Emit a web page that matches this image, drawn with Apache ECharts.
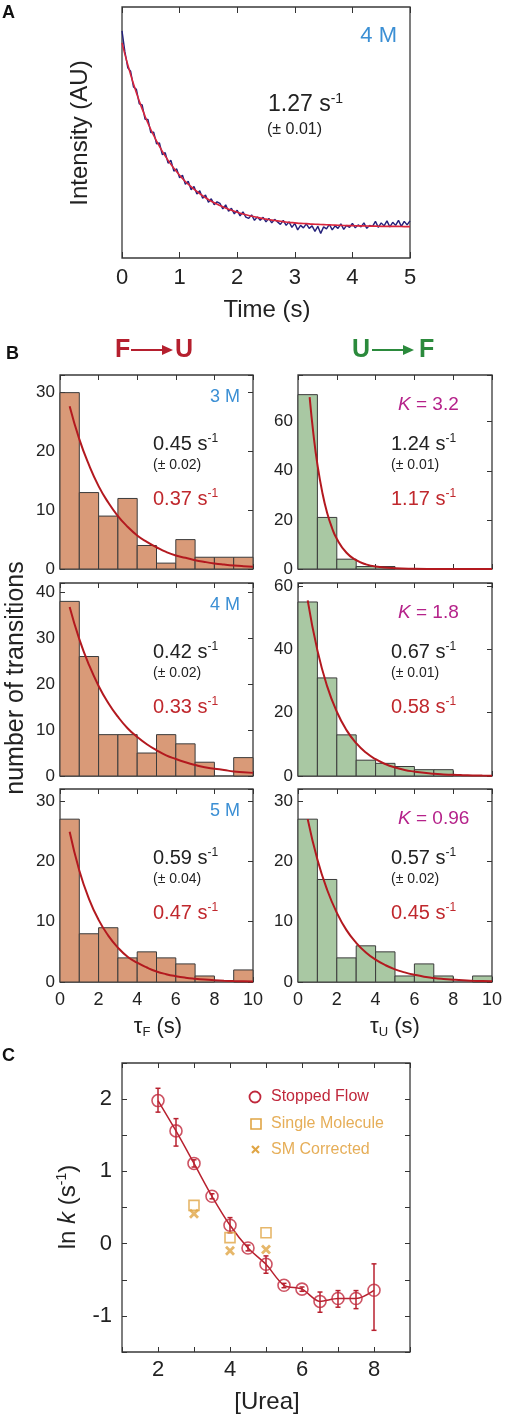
<!DOCTYPE html>
<html><head><meta charset="utf-8">
<script src="https://cdn.jsdelivr.net/npm/echarts@6/dist/echarts.min.js"></script>
<style>html,body{margin:0;padding:0;background:#fff}#c{width:505px;height:1418px}</style>
</head><body><div id="c"></div>
<script>
// ---------------- Panel A: stopped-flow trace ----------------
const timeA = [0,0.05,0.1,0.15,0.2,0.25,0.3,0.35,0.4,0.45,0.5,0.55,0.6,0.65,0.7,0.75,0.8,0.85,0.9,0.95,1,1.05,1.1,1.15,1.2,1.25,1.3,1.35,1.4,1.45,1.5,1.55,1.6,1.65,1.7,1.75,1.8,1.85,1.9,1.95,2,2.05,2.1,2.15,2.2,2.25,2.3,2.35,2.4,2.45,2.5,2.55,2.6,2.65,2.7,2.75,2.8,2.85,2.9,2.95,3,3.05,3.1,3.15,3.2,3.25,3.3,3.35,3.4,3.45,3.5,3.55,3.6,3.65,3.7,3.75,3.8,3.85,3.9,3.95,4,4.05,4.1,4.15,4.2,4.25,4.3,4.35,4.4,4.45,4.5,4.55,4.6,4.65,4.7,4.75,4.8,4.85,4.9,4.95,5];
const traceA = [0.905,0.822,0.758,0.744,0.681,0.672,0.614,0.610,0.553,0.552,0.500,0.501,0.455,0.458,0.412,0.420,0.378,0.389,0.346,0.355,0.320,0.330,0.294,0.306,0.272,0.285,0.255,0.268,0.238,0.251,0.222,0.236,0.212,0.224,0.218,0.196,0.212,0.186,0.198,0.176,0.190,0.168,0.184,0.163,0.158,0.172,0.150,0.164,0.150,0.162,0.144,0.158,0.140,0.154,0.144,0.134,0.150,0.130,0.144,0.122,0.138,0.112,0.130,0.120,0.136,0.118,0.128,0.106,0.126,0.098,0.124,0.116,0.134,0.112,0.128,0.118,0.136,0.114,0.130,0.122,0.138,0.120,0.132,0.124,0.140,0.118,0.130,0.126,0.146,0.122,0.140,0.128,0.148,0.124,0.142,0.130,0.150,0.126,0.146,0.132,0.148];
const fitTimeA = [0,0.1,0.2,0.3,0.4,0.5,0.6,0.7,0.8,0.9,1,1.1,1.2,1.3,1.4,1.5,1.6,1.7,1.8,1.9,2,2.1,2.2,2.3,2.4,2.5,2.6,2.7,2.8,2.9,3,3.1,3.2,3.3,3.4,3.5,3.6,3.7,3.8,3.9,4,4.1,4.2,4.3,4.4,4.5,4.6,4.7,4.8,4.9,5];
const fitA = [0.857,0.770,0.693,0.625,0.565,0.512,0.466,0.425,0.389,0.358,0.330,0.305,0.284,0.265,0.248,0.233,0.220,0.209,0.199,0.190,0.182,0.175,0.169,0.164,0.159,0.155,0.151,0.148,0.145,0.142,0.140,0.138,0.137,0.135,0.134,0.133,0.132,0.131,0.130,0.129,0.129,0.128,0.128,0.127,0.127,0.126,0.126,0.126,0.126,0.125,0.125];

// ---------------- Panel B: dwell-time histograms ----------------
const binEdges = [0,1,2,3,4,5,6,7,8,9,10];
const countsF3 = [30,13,9,12,4,1,5,2,2,2];
const countsF4 = [38,26,9,9,5,9,7,3,0,4];
const countsF5 = [27,8,9,4,5,4,3,1,0,2];
const countsU3 = [71,21,4,1,1,0,0,0,0,0];
const countsU4 = [55,31,13,5,4,3,2,2,0,0];
const countsU5 = [27,17,4,6,5,1,3,1,0,1];
const fitT = [0.5,1,1.5,2,2.5,3,3.5,4,4.5,5,5.5,6,6.5,7,7.5,8,8.5,9,9.5,10];
const fitF3 = [27.7,22.1,17.7,14.1,11.3,9.0,7.2,5.7,4.6,3.7,2.9,2.3,1.9,1.5,1.2,0.95,0.76,0.60,0.48,0.39];
const fitF4 = [36.8,29.8,24.2,19.6,15.9,12.9,10.4,8.5,6.9,5.6,4.5,3.7,3.0,2.4,1.9,1.6,1.3,1.0,0.84,0.68];
const fitF5 = [24.9,18.5,13.8,10.3,7.7,5.7,4.2,3.2,2.4,1.75,1.3,0.97,0.72,0.54,0.40,0.30,0.22,0.16,0.12,0.09];
const fitTU3 = [0.6,0.8,1.0,1.25,1.5,1.75,2,2.5,3,3.5,4,5,6,7,8,9,10];
const fitU3 = [70,54.6,42.6,31.3,22.9,16.8,12.3,6.6,3.6,1.9,1.0,0.30,0.09,0.03,0.01,0.0,0.0];
const fitU4 = [55.5,39.7,28.4,20.3,14.5,10.4,7.4,5.3,3.8,2.7,1.9,1.4,1.0,0.71,0.51,0.36,0.26,0.19,0.13,0.10];
const fitU5 = [27.0,20.3,15.3,11.5,8.6,6.5,4.9,3.7,2.8,2.1,1.6,1.2,0.88,0.66,0.50,0.38,0.28,0.21,0.16,0.12];
const concLabels = ['3 M','4 M','5 M'];
const kLabels = ['3.2','1.8','0.96'];
const rateFU = ['0.45','0.42','0.59'];
const errFU = ['0.02','0.02','0.04'];
const corrFU = ['0.37','0.33','0.47'];
const rateUF = ['1.24','0.67','0.57'];
const errUF = ['0.01','0.01','0.02'];
const corrUF = ['1.17','0.58','0.45'];

// ---------------- Panel C: chevron plot ----------------
const urea = [2,2.5,3,3.5,4,4.5,5,5.5,6,6.5,7,7.5,8];
const lnK = [1.98,1.56,1.11,0.655,0.254,-0.06,-0.286,-0.577,-0.63,-0.80,-0.76,-0.76,-0.646];
const lnKLo = [1.82,1.35,1.06,0.62,0.15,-0.10,-0.41,-0.61,-0.66,-0.95,-0.88,-0.90,-1.20];
const lnKHi = [2.15,1.73,1.16,0.69,0.36,-0.02,-0.17,-0.55,-0.60,-0.67,-0.65,-0.65,-0.28];
const smUrea = [3,4,5];
const smLnK = [0.53,0.083,0.15];
const smcLnK = [0.415,-0.10,-0.083];
const legendC = ['Stopped Flow','Single Molecule','SM Corrected'];

// ---------------- build ----------------
const FF = '"Liberation Sans", Arial, Helvetica, sans-serif';
const grids = [], xAxis = [], yAxis = [], series = [], graphic = [];

function axisCfg(gi, pos, o, main) {
  const lab = {show: main && !!o.label, margin: o.margin || 6, fontSize: o.fs || 17, color: '#222', fontFamily: FF};
  if (o.fmt) lab.formatter = o.fmt;
  return {type: 'value', gridIndex: gi, position: pos, min: o.min, max: o.max, interval: o.interval,
    axisLine: {show: false, onZero: false}, splitLine: {show: false},
    axisTick: {show: main ? o.tick !== false : !!o.tick2, inside: true, length: o.tickLen || 5, lineStyle: {color: '#333', width: 1}},
    axisLabel: lab};
}
function addGrid(box, xo, yo) {
  const gi = grids.length;
  grids.push({left: box[0], top: box[1], width: box[2], height: box[3], show: true,
    borderColor: '#3a3a3a', borderWidth: 1.3, backgroundColor: 'rgba(0,0,0,0)'});
  const xi = xAxis.length, yi = yAxis.length;
  xAxis.push(axisCfg(gi, 'bottom', xo, true));
  xAxis.push(axisCfg(gi, 'top', xo, false));
  yAxis.push(axisCfg(gi, 'left', yo, true));
  yAxis.push(axisCfg(gi, 'right', yo, false));
  return {x: xi, y: yi};
}
function txt(x, y, text, o) {
  o = o || {};
  const el = {type: 'text', x: x, y: y, z: 100, silent: true,
    style: {text: text, font: o.font || ('18px ' + FF), fill: o.fill || '#222',
      align: o.align || 'left', textAlign: o.align || 'left',
      verticalAlign: 'middle', textVerticalAlign: 'middle', rich: o.rich}};
  if (o.rot) el.rotation = o.rot;
  return el;
}
function richSet(size, color, supSize) {
  return {
    a: {fontSize: size, fontFamily: FF, fill: color, color: color, lineHeight: size + 2},
    s: {fontSize: supSize || Math.round(size * 0.6), fontFamily: FF, fill: color, color: color, verticalAlign: 'top'},
    b: {fontSize: supSize || Math.round(size * 0.6), fontFamily: FF, fill: color, color: color, verticalAlign: 'bottom'},
    i: {fontSize: size, fontFamily: FF, fill: color, color: color, fontStyle: 'italic', lineHeight: size + 2}
  };
}

// Panel A
const axA = addGrid([122, 7, 288, 251],
  {min: 0, max: 5, interval: 1, label: true, fs: 22, margin: 9, tick2: true, tickLen: 6},
  {min: 0, max: 1, interval: 0.5, tick: false, label: false});
series.push({type: 'line', xAxisIndex: axA.x, yAxisIndex: axA.y, data: timeA.map((t, i) => [t, traceA[i]]),
  showSymbol: false, symbol: 'none', lineStyle: {color: '#24207a', width: 1.4}, silent: true, z: 2});
series.push({type: 'line', xAxisIndex: axA.x, yAxisIndex: axA.y, data: fitTimeA.map((t, i) => [t, fitA[i]]),
  smooth: true, symbol: 'none', lineStyle: {color: '#d8253c', width: 1.6}, silent: true, z: 3});

// Panel B
const rowsTop = [375, 583, 789], rowH = [194, 193, 193];
const leftMax = [33, 42, 32], rightMax = [79, 61, 32];
const leftInt = [10, 10, 10], rightInt = [20, 20, 10];
const countsL = [countsF3, countsF4, countsF5], countsR = [countsU3, countsU4, countsU5];
const fitsL = [fitF3, fitF4, fitF5], fitsR = [fitU3, fitU4, fitU5];
const fitTR = [fitTU3, fitT, fitT];

function histSeries(ax, counts, fill) {
  return {type: 'custom', xAxisIndex: ax.x, yAxisIndex: ax.y, silent: true, z: 2,
    data: counts.map((c, i) => [binEdges[i], binEdges[i + 1], c]),
    encode: {x: [0, 1], y: 2},
    renderItem: function (params, api) {
      const h = api.value(2);
      if (h <= 0) return null;
      const p0 = api.coord([api.value(0), 0]);
      const p1 = api.coord([api.value(1), h]);
      return {type: 'rect', shape: {x: p0[0], y: p1[1], width: p1[0] - p0[0], height: p0[1] - p1[1]},
        style: {fill: fill, stroke: '#3b3b3b', lineWidth: 1}};
    }};
}
function fitSeries(ax, ts, vs) {
  return {type: 'line', xAxisIndex: ax.x, yAxisIndex: ax.y, data: ts.map((t, i) => [t, vs[i]]),
    smooth: true, symbol: 'none', lineStyle: {color: '#b3191f', width: 2}, silent: true, z: 3};
}
for (let r = 0; r < 3; r++) {
  const last = r === 2;
  const fmtL = (v) => (v % leftInt[r] === 0 ? String(v) : '');
  const fmtR = (v) => (v % rightInt[r] === 0 ? String(v) : '');
  const axL = addGrid([60, rowsTop[r], 193, rowH[r]],
    {min: 0, max: 10, interval: 2, label: last, fs: 18, margin: 9, tick2: true},
    {min: 0, max: leftMax[r], interval: leftInt[r], label: true, fs: 17, margin: 5, tick2: true, fmt: fmtL});
  const axR = addGrid([298, rowsTop[r], 194, rowH[r]],
    {min: 0, max: 10, interval: 2, label: last, fs: 18, margin: 9, tick2: true},
    {min: 0, max: rightMax[r], interval: rightInt[r], label: true, fs: 17, margin: 5, tick2: true, fmt: fmtR});
  series.push(histSeries(axL, countsL[r], '#d99a78'));
  series.push(fitSeries(axL, fitT, fitsL[r]));
  series.push(histSeries(axR, countsR[r], '#a9c8a3'));
  series.push(fitSeries(axR, fitTR[r], fitsR[r]));

  const t = rowsTop[r];
  graphic.push(txt(240, t + 22, concLabels[r], {font: '18px ' + FF, fill: '#3b8fd4', align: 'right'}));
  graphic.push(txt(153, t + 69, '{a|' + rateFU[r] + ' s}{s|-1}', {rich: richSet(20, '#222', 12)}));
  graphic.push(txt(153, t + 90, '(\u00b1 ' + errFU[r] + ')', {font: '14px ' + FF, fill: '#222'}));
  graphic.push(txt(153, t + 124, '{a|' + corrFU[r] + ' s}{s|-1}', {rich: richSet(20, '#c0282d', 12)}));
  graphic.push(txt(398, t + 30, '{i|K}{a| = ' + kLabels[r] + '}', {rich: richSet(19, '#b5228a')}));
  graphic.push(txt(391, t + 69, '{a|' + rateUF[r] + ' s}{s|-1}', {rich: richSet(20, '#222', 12)}));
  graphic.push(txt(391, t + 90, '(\u00b1 ' + errUF[r] + ')', {font: '14px ' + FF, fill: '#222'}));
  graphic.push(txt(391, t + 124, '{a|' + corrUF[r] + ' s}{s|-1}', {rich: richSet(20, '#c0282d', 12)}));
}

// Panel C
const axC = addGrid([122, 1063, 288, 289],
  {min: 1, max: 9, interval: 1, label: true, fs: 22, margin: 7, tick2: true, fmt: (v) => (v % 2 === 0 ? String(v) : '')},
  {min: -1.5, max: 2.5, interval: 0.5, label: true, fs: 22, margin: 10, tick2: true, fmt: (v) => (Number.isInteger(v) ? String(v) : '')});
series.push({type: 'line', xAxisIndex: axC.x, yAxisIndex: axC.y, data: urea.map((u, i) => [u, lnK[i]]),
  smooth: 0.3, symbol: 'none', lineStyle: {color: '#b8212f', width: 1.5}, silent: true, z: 2});
series.push({type: 'custom', xAxisIndex: axC.x, yAxisIndex: axC.y, silent: true, z: 3,
  data: urea.map((u, i) => [u, lnKLo[i], lnKHi[i]]), encode: {x: 0, y: [1, 2]},
  renderItem: function (params, api) {
    const lo = api.coord([api.value(0), api.value(1)]);
    const hi = api.coord([api.value(0), api.value(2)]);
    const st = {stroke: '#b8212f', lineWidth: 1.5};
    return {type: 'group', children: [
      {type: 'line', shape: {x1: lo[0], y1: lo[1], x2: hi[0], y2: hi[1]}, style: st},
      {type: 'line', shape: {x1: lo[0] - 2.5, y1: lo[1], x2: lo[0] + 2.5, y2: lo[1]}, style: st},
      {type: 'line', shape: {x1: hi[0] - 2.5, y1: hi[1], x2: hi[0] + 2.5, y2: hi[1]}, style: st}]};
  }});
series.push({type: 'scatter', name: legendC[0], xAxisIndex: axC.x, yAxisIndex: axC.y, data: urea.map((u, i) => [u, lnK[i]]),
  symbol: 'circle', symbolSize: 12, itemStyle: {color: 'rgba(0,0,0,0)', borderColor: '#c0283c', borderWidth: 1.6}, silent: true, z: 4});
series.push({type: 'scatter', name: legendC[1], xAxisIndex: axC.x, yAxisIndex: axC.y, data: smUrea.map((u, i) => [u, smLnK[i]]),
  symbol: 'rect', symbolSize: 10, itemStyle: {color: 'rgba(0,0,0,0)', borderColor: '#e0a545', borderWidth: 1.6}, silent: true, z: 4});
series.push({type: 'scatter', name: legendC[2], xAxisIndex: axC.x, yAxisIndex: axC.y, data: smUrea.map((u, i) => [u, smcLnK[i]]),
  symbol: 'path://M0,2L2,0L5,3L8,0L10,2L7,5L10,8L8,10L5,7L2,10L0,8L3,5Z', symbolSize: 10,
  itemStyle: {color: '#e0a545'}, silent: true, z: 4});

// legend of panel C
graphic.push({type: 'circle', z: 100, silent: true, shape: {cx: 255, cy: 1097, r: 5.5}, style: {fill: 'none', stroke: '#c0283c', lineWidth: 1.8}});
graphic.push({type: 'rect', z: 100, silent: true, shape: {x: 251, y: 1119, width: 10, height: 10}, style: {fill: 'none', stroke: '#e0a545', lineWidth: 1.6}});
graphic.push({type: 'line', z: 100, silent: true, shape: {x1: 252, y1: 1146, x2: 259, y2: 1153}, style: {stroke: '#e0a545', lineWidth: 2.2}});
graphic.push({type: 'line', z: 100, silent: true, shape: {x1: 259, y1: 1146, x2: 252, y2: 1153}, style: {stroke: '#e0a545', lineWidth: 2.2}});
graphic.push(txt(271, 1097, legendC[0], {font: '16px ' + FF, fill: '#c0283c'}));
graphic.push(txt(271, 1124, legendC[1], {font: '16px ' + FF, fill: '#e6ae58'}));
graphic.push(txt(271, 1150, legendC[2], {font: '16px ' + FF, fill: '#e6ae58'}));

// Panel labels and titles
graphic.push(txt(2, 13, 'A', {font: 'bold 18px ' + FF, fill: '#111'}));
graphic.push(txt(6, 354, 'B', {font: 'bold 18px ' + FF, fill: '#111'}));
graphic.push(txt(2, 1056, 'C', {font: 'bold 18px ' + FF, fill: '#111'}));

graphic.push(txt(397, 36, '4 M', {font: '22px ' + FF, fill: '#3b8fd4', align: 'right'}));
graphic.push(txt(268, 105, '{a|1.27 s}{s|-1}', {rich: richSet(23, '#222', 14)}));
graphic.push(txt(267, 130, '(\u00b1 0.01)', {font: '16px ' + FF, fill: '#222'}));
graphic.push(txt(80, 133, 'Intensity (AU)', {font: '24px ' + FF, fill: '#222', align: 'center', rot: Math.PI / 2}));
graphic.push(txt(267, 310, 'Time (s)', {font: '24px ' + FF, fill: '#222', align: 'center'}));

// F -> U / U -> F headers
const cFU = '#b51f2e', cUF = '#2b8a3c';
graphic.push(txt(115, 350, 'F', {font: 'bold 25px ' + FF, fill: cFU}));
graphic.push({type: 'line', z: 100, silent: true, shape: {x1: 131, y1: 350, x2: 164, y2: 350}, style: {stroke: cFU, lineWidth: 2}});
graphic.push({type: 'polygon', z: 100, silent: true, shape: {points: [[162, 345], [173, 350], [162, 355]]}, style: {fill: cFU}});
graphic.push(txt(175, 350, 'U', {font: 'bold 25px ' + FF, fill: cFU}));
graphic.push(txt(352, 350, 'U', {font: 'bold 25px ' + FF, fill: cUF}));
graphic.push({type: 'line', z: 100, silent: true, shape: {x1: 372, y1: 350, x2: 405, y2: 350}, style: {stroke: cUF, lineWidth: 2}});
graphic.push({type: 'polygon', z: 100, silent: true, shape: {points: [[403, 345], [414, 350], [403, 355]]}, style: {fill: cUF}});
graphic.push(txt(419, 350, 'F', {font: 'bold 25px ' + FF, fill: cUF}));

graphic.push(txt(16, 678, 'number of transitions', {font: '25px ' + FF, fill: '#222', align: 'center', rot: Math.PI / 2}));
graphic.push(txt(158, 1027, '{a|\u03c4}{b|F}{a| (s)}', {align: 'center', rich: richSet(22, '#222', 13)}));
graphic.push(txt(395, 1027, '{a|\u03c4}{b|U}{a| (s)}', {align: 'center', rich: richSet(22, '#222', 13)}));

graphic.push(txt(68, 1207, '{a|ln }{i|k}{a| (s}{s|-1}{a|)}', {align: 'center', rot: Math.PI / 2, rich: richSet(24, '#222', 14)}));
graphic.push(txt(267, 1402, '[Urea]', {font: '24px ' + FF, fill: '#222', align: 'center'}));

const chart = echarts.init(document.getElementById('c'), null, {renderer: 'canvas'});
chart.setOption({
  animation: false,
  backgroundColor: '#fff',
  textStyle: {fontFamily: FF},
  grid: grids, xAxis: xAxis, yAxis: yAxis, series: series, graphic: graphic
});
</script>
</body></html>
